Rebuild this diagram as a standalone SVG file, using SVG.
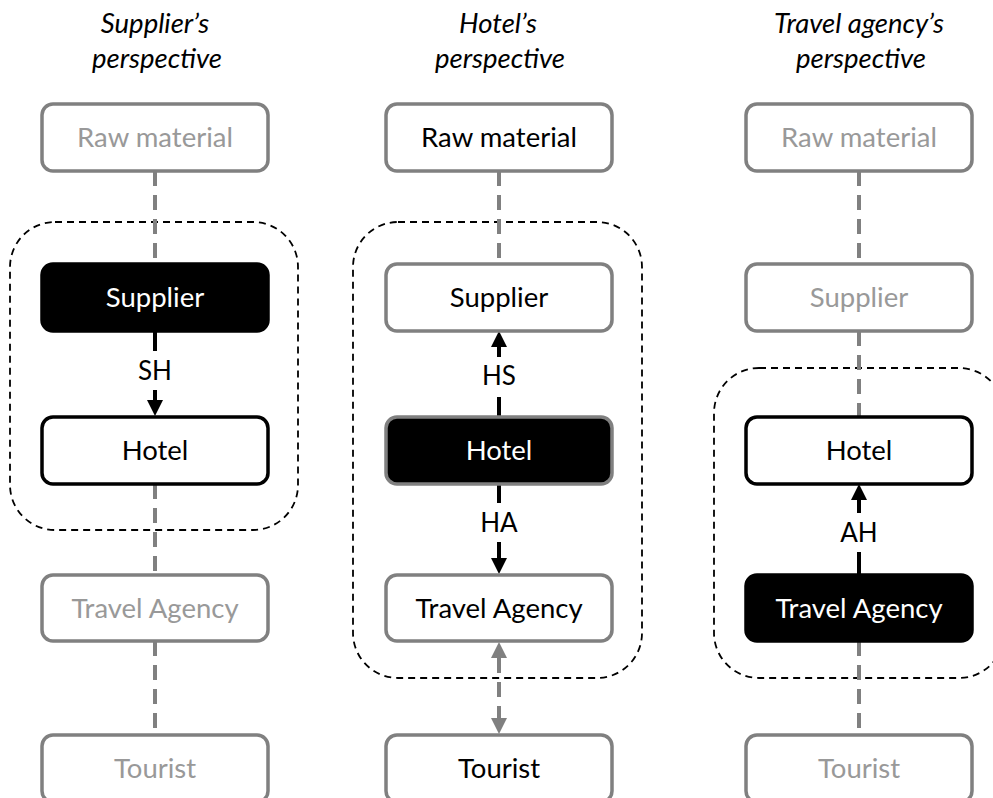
<svg xmlns="http://www.w3.org/2000/svg" width="993" height="798" viewBox="0 0 993 798">
<style>
.title{font-family:Lato,"Open Sans","DejaVu Sans",sans-serif;font-style:italic;font-size:27.5px;fill:#000;text-anchor:middle}
.lbl{font-family:Lato,"Open Sans","DejaVu Sans",sans-serif;font-size:27.5px;text-anchor:middle}
.elab{font-family:Lato,"Open Sans","DejaVu Sans",sans-serif;font-size:26px;text-anchor:middle;fill:#000}
.box{stroke-width:3.5}
.faded rect{fill:#fff;stroke:#808080}
.faded text{fill:#999}
.plain rect{fill:#fff;stroke:#808080}
.plain text{fill:#000}
.strong rect{fill:#fff;stroke:#000}
.strong text{fill:#000}
.focus rect{fill:#000;stroke:#000}
.focus text{fill:#fff}
.focusg rect{fill:#000;stroke:#808080}
.focusg text{fill:#fff}
.gray{stroke:#808080;stroke-width:4;stroke-dasharray:15 9;fill:none}
.blk{stroke:#000;stroke-width:4;fill:none}
.grp{fill:none;stroke:#000;stroke-width:1.8;stroke-dasharray:7 5}
</style>
<defs>
<marker id="ah" markerUnits="userSpaceOnUse" markerWidth="16" markerHeight="16" refX="0" refY="7" orient="auto-start-reverse" viewBox="0 0 14 14" overflow="visible">
<path d="M0,0 L14,7 L0,14 z" fill="#000"/>
</marker>
<marker id="ahg" markerUnits="userSpaceOnUse" markerWidth="16" markerHeight="16" refX="0" refY="7" orient="auto-start-reverse" viewBox="0 0 14 14" overflow="visible">
<path d="M0,0 L14,7 L0,14 z" fill="#808080"/>
</marker>
</defs>

<g id="titles">
<text class="title" x="155" y="33">Supplier’s</text>
<text class="title" x="157" y="68">perspective</text>
<text class="title" x="498" y="33">Hotel’s</text>
<text class="title" x="500" y="68">perspective</text>
<text class="title" x="859" y="33">Travel agency’s</text>
<text class="title" x="861" y="68">perspective</text>
</g>

<g id="groups">
<rect id="group-supplier" class="grp" x="10" y="222" width="288" height="308" rx="45"/>
<rect id="group-hotel" class="grp" x="353" y="222" width="289" height="456" rx="45"/>
<rect id="group-agency" class="grp" x="714" y="368" width="290" height="310" rx="45"/>
</g>

<g id="connectors">
<!-- column 1 -->
<line class="gray" x1="155" y1="171" x2="155" y2="264"/>
<line class="blk" x1="155" y1="332" x2="155" y2="351"/>
<text class="elab" x="155" y="380">SH</text>
<line class="blk" x1="155" y1="390" x2="155" y2="400" marker-end="url(#ah)"/>
<line class="gray" x1="155" y1="484" x2="155" y2="575"/>
<line class="gray" x1="155" y1="641" x2="155" y2="735"/>
<!-- column 2 -->
<line class="gray" x1="499" y1="171" x2="499" y2="264"/>
<line class="blk" x1="499" y1="417" x2="499" y2="397"/>
<text class="elab" x="499" y="385">HS</text>
<line class="blk" x1="499" y1="357" x2="499" y2="347" marker-end="url(#ah)"/>
<line class="blk" x1="499" y1="484" x2="499" y2="503"/>
<text class="elab" x="499" y="532">HA</text>
<line class="blk" x1="499" y1="542" x2="499" y2="558" marker-end="url(#ah)"/>
<line class="gray" x1="499" y1="658" x2="499" y2="718" stroke-dasharray="12 8" marker-start="url(#ahg)" marker-end="url(#ahg)"/>
<!-- column 3 -->
<line class="gray" x1="859" y1="171" x2="859" y2="264"/>
<line class="gray" x1="859" y1="331" x2="859" y2="417"/>
<line class="blk" x1="859" y1="574" x2="859" y2="552"/>
<text class="elab" x="859" y="542">AH</text>
<line class="blk" x1="859" y1="513" x2="859" y2="500" marker-end="url(#ah)"/>
<line class="gray" x1="859" y1="641" x2="859" y2="735"/>
</g>

<!-- column 1 nodes -->
<g id="c1-raw" class="faded"><rect class="box" x="42" y="104" width="226" height="67" rx="11"/><text class="lbl" x="155" y="147">Raw material</text></g>
<g id="c1-supplier" class="focus"><rect class="box" x="42" y="264" width="226" height="67" rx="11"/><text class="lbl" x="155" y="307">Supplier</text></g>
<g id="c1-hotel" class="strong"><rect class="box" x="42" y="417" width="226" height="67" rx="11"/><text class="lbl" x="155" y="460">Hotel</text></g>
<g id="c1-agency" class="faded"><rect class="box" x="42" y="575" width="226" height="66" rx="11"/><text class="lbl" x="155" y="617.5">Travel Agency</text></g>
<g id="c1-tourist" class="faded"><rect class="box" x="42" y="735" width="226" height="67" rx="11"/><text class="lbl" x="155" y="778">Tourist</text></g>

<!-- column 2 nodes -->
<g id="c2-raw" class="plain"><rect class="box" x="386" y="104" width="226" height="67" rx="11"/><text class="lbl" x="499" y="147">Raw material</text></g>
<g id="c2-supplier" class="plain"><rect class="box" x="386" y="264" width="226" height="67" rx="11"/><text class="lbl" x="499" y="307">Supplier</text></g>
<g id="c2-hotel" class="focusg"><rect class="box" x="386" y="417" width="226" height="67" rx="11"/><text class="lbl" x="499" y="460">Hotel</text></g>
<g id="c2-agency" class="plain"><rect class="box" x="386" y="575" width="226" height="66" rx="11"/><text class="lbl" x="499" y="617.5">Travel Agency</text></g>
<g id="c2-tourist" class="plain"><rect class="box" x="386" y="735" width="226" height="67" rx="11"/><text class="lbl" x="499" y="778">Tourist</text></g>

<!-- column 3 nodes -->
<g id="c3-raw" class="faded"><rect class="box" x="746" y="104" width="226" height="67" rx="11"/><text class="lbl" x="859" y="147">Raw material</text></g>
<g id="c3-supplier" class="faded"><rect class="box" x="746" y="264" width="226" height="67" rx="11"/><text class="lbl" x="859" y="307">Supplier</text></g>
<g id="c3-hotel" class="strong"><rect class="box" x="746" y="417" width="226" height="67" rx="11"/><text class="lbl" x="859" y="460">Hotel</text></g>
<g id="c3-agency" class="focus"><rect class="box" x="746" y="575" width="226" height="66" rx="11"/><text class="lbl" x="859" y="617.5">Travel Agency</text></g>
<g id="c3-tourist" class="faded"><rect class="box" x="746" y="735" width="226" height="67" rx="11"/><text class="lbl" x="859" y="778">Tourist</text></g>
</svg>
